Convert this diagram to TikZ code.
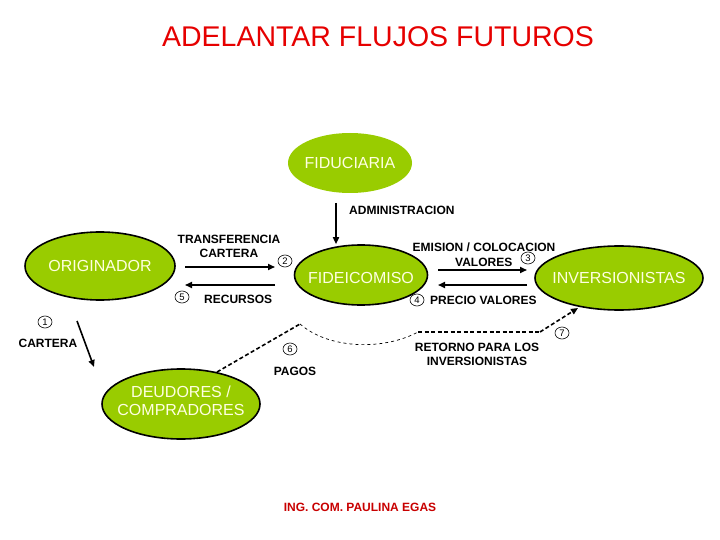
\documentclass[tikz,border=0pt]{standalone}
\usepackage{fontspec}
\setmainfont{Liberation Sans}
\usetikzlibrary{shapes.geometric,arrows.meta}
\definecolor{leaf}{RGB}{153,204,0}
\definecolor{pale}{RGB}{255,255,225}
\definecolor{titlered}{RGB}{230,0,0}
\definecolor{signred}{RGB}{200,0,0}
\newcommand{\zbox}[2][-6pt]{\makebox[0pt]{\raisebox{#1}[0pt][0pt]{\begin{tabular}{@{}c@{}}#2\end{tabular}}}}
\tikzset{
  blob/.style={ellipse, fill=leaf, draw=black, line width=1.6pt, inner sep=0pt,
    text=pale, font=\fontsize{16}{18}\selectfont},
  lbl/.style={font=\bfseries\fontsize{12}{14}\selectfont, align=center, inner sep=0pt},
  num/.style={ellipse, draw=black, line width=0.6pt, minimum width=14pt, minimum height=12pt,
    inner sep=0pt, font=\fontsize{9.5}{10}\selectfont},
  flow/.style={line width=1.6pt, -{Triangle[length=7pt,width=6pt]}},
  thickdash/.style={line width=1.6pt, dash pattern=on 4pt off 2.5pt},
  thindash/.style={line width=0.7pt, dash pattern=on 3pt off 3pt},
}
\begin{document}
\begin{tikzpicture}[x=1pt,y=-1pt]
\useasboundingbox (0,0) rectangle (720,540);
\node[text=titlered, font=\fontsize{28.5}{30}\selectfont] (title) at (378,37) {ADELANTAR FLUJOS FUTUROS};

\node[blob, draw=none, minimum width=124pt, minimum height=60pt] (fid) at (350,163) {\zbox{FIDUCIARIA}};
\node[blob, minimum width=150pt, minimum height=68pt] (ori) at (100,266) {\zbox{ORIGINADOR}};
\node[blob, minimum width=133pt, minimum height=60pt] (fc) at (361,275) {\zbox[-9pt]{FIDEICOMISO}};
\node[blob, minimum width=168pt, minimum height=64pt] (inv) at (619,278) {\zbox{INVERSIONISTAS}};
\node[blob, minimum width=158pt, minimum height=70pt] (deu) at (181,404) {\zbox[-3pt]{DEUDORES /\\COMPRADORES}};

% administracion
\coordinate (admA) at (336,203);
\draw[flow] (admA) -- (fc.north -| admA);
\node[lbl, anchor=west] (adm) at (349,210) {ADMINISTRACION};

% originador <-> fideicomiso
\coordinate (o1) at (185,267); \coordinate (f1) at (275,267);
\coordinate (o2) at (185,285); \coordinate (f2) at (275,285);
\draw[flow] (o1) -- (f1);
\draw[flow] (f2) -- (o2);
\node[lbl] (trans) at (229,246) {TRANSFERENCIA\\CARTERA};
\node[num] (n2) at (285,261) {2};
\node[num] (n5) at (182,297) {5};
\node[lbl, anchor=west] (rec) at (204,299) {RECURSOS};

% fideicomiso <-> inversionistas
\coordinate (f3) at (438,270); \coordinate (i3) at (527,270);
\coordinate (f4) at (438,285); \coordinate (i4) at (527,285);
\draw[flow] (f3) -- (i3);
\draw[flow] (i4) -- (f4);
\node[lbl] (emi) at (484,247) {EMISION / COLOCACION};
\node[lbl, anchor=west] (val) at (455,262) {VALORES};
\node[num] (n3) at (528,258) {3};
\node[num] (n4) at (417,300) {4};
\node[lbl, anchor=west] (pre) at (430,300) {PRECIO VALORES};

% cartera
\node[num] (n1) at (45,322) {1};
\node[lbl] (cart) at (48,343) {CARTERA};
\coordinate (c1) at (77,321);
\coordinate (c2) at (94,367);
\draw[flow] (c1) -- (c2);

% pagos / retorno
\coordinate (d1) at (217,372);
\coordinate (p1) at (300,324);
\coordinate (p2) at (418,332);
\coordinate (p3) at (540,332);
\coordinate (p4) at (578,308);
\draw[thickdash] (d1) -- (p1);
\draw[thindash] (p1) .. controls (330,350) and (385,350) .. (p2);
\draw[thickdash] (p2) -- (p3);
\draw[thickdash, -{Triangle[length=7pt,width=6pt]}] (p3) -- (p4);
\node[num] (n6) at (290,349) {6};
\node[lbl] (pag) at (295,371) {PAGOS};
\node[num] (n7) at (562,333) {7};
\node[lbl] (ret) at (477,354) {RETORNO PARA LOS\\INVERSIONISTAS};

\node[text=signred, font=\bfseries\fontsize{12}{14}\selectfont] (sig) at (360,507) {ING. COM. PAULINA EGAS};
\end{tikzpicture}
\end{document}
